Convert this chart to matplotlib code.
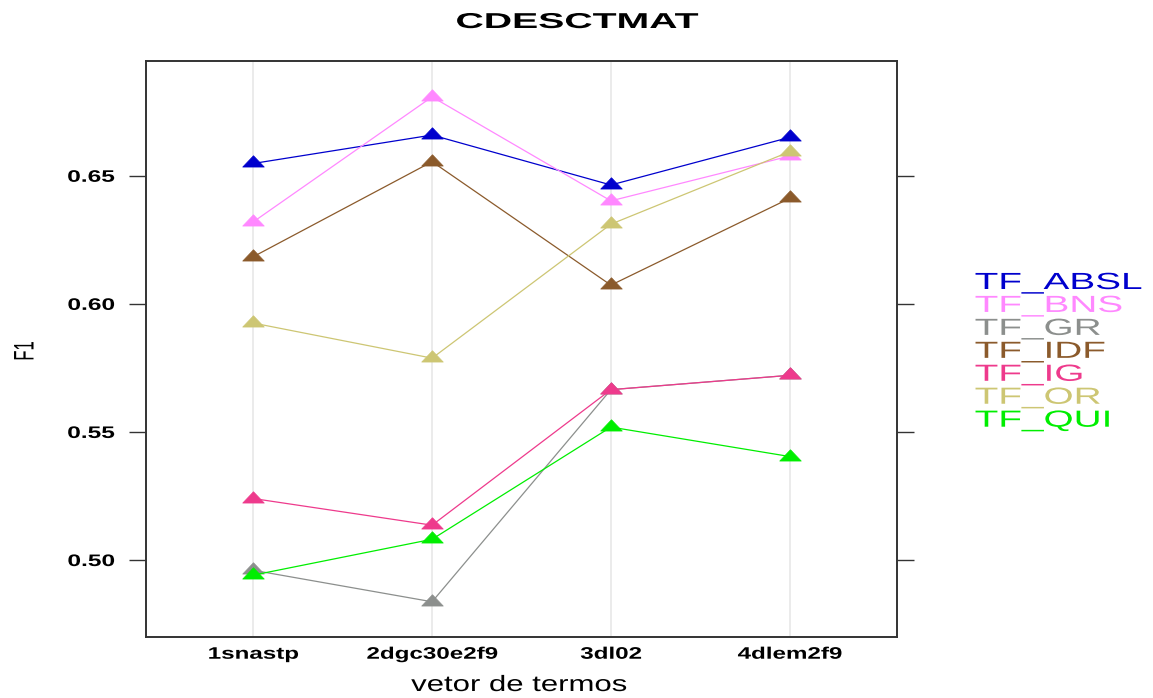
import matplotlib
matplotlib.use("Agg")
import matplotlib.pyplot as plt
from matplotlib.path import Path
from matplotlib.patheffects import AbstractPathEffect
from matplotlib.transforms import Affine2D

# ---------------- data ----------------
categories = ["1snastp", "2dgc30e2f9", "3dl02", "4dlem2f9"]
series_names = ["TF_ABSL", "TF_BNS", "TF_GR", "TF_IDF", "TF_IG", "TF_OR", "TF_QUI"]
tf_absl = [0.6548, 0.6659, 0.6464, 0.6650]
tf_bns = [0.6320, 0.6808, 0.6402, 0.6577]
tf_gr = [0.4960, 0.4837, 0.5665, 0.5721]
tf_idf = [0.6184, 0.6555, 0.6073, 0.6412]
tf_ig = [0.5240, 0.5136, 0.5665, 0.5721]
tf_or = [0.5925, 0.5788, 0.6311, 0.6594]
tf_qui = [0.4941, 0.5081, 0.5519, 0.5404]
series_values = [tf_absl, tf_bns, tf_gr, tf_idf, tf_ig, tf_or, tf_qui]
colors = ["#0000CD", "#FF88FF", "#8C8F8D", "#8B5A2B", "#EE3A8C", "#CDC673", "#00EE00"]
yticks = [0.50, 0.55, 0.60, 0.65]
ytick_labels = ["0.50", "0.55", "0.60", "0.65"]
title = "CDESCTMAT"
xlabel = "vetor de termos"
ylabel = "F1"


class Stretch(AbstractPathEffect):
    """Draw text glyphs stretched (the reference text is horizontally wide)."""
    def __init__(self, sx=1.0, sy=1.0, anchor="left"):
        super().__init__()
        self.sx, self.sy, self.anchor = sx, sy, anchor

    def draw_path(self, renderer, gc, tpath, affine, rgbFace=None):
        ext = tpath.get_extents()
        if self.anchor == "center":
            cx = (ext.x0 + ext.x1) / 2
        elif self.anchor == "right":
            cx = ext.x1
        else:
            cx = ext.x0
        cy = (ext.y0 + ext.y1) / 2
        t = Affine2D().translate(-cx, -cy).scale(self.sx, self.sy).translate(cx, cy) + affine
        renderer.draw_path(gc, tpath, t, rgbFace)


plt.rcParams["font.family"] = ["Liberation Sans", "DejaVu Sans"]

W, H = 1153, 698
fig = plt.figure(figsize=(W / 100, H / 100), dpi=100)
ax = fig.add_axes([146 / W, (H - 637) / H, (897 - 146) / W, (637 - 61) / H])

tri = Path([(-1, -0.33), (1, -0.33), (0, 0.72), (-1, -0.33)],
           [Path.MOVETO, Path.LINETO, Path.LINETO, Path.CLOSEPOLY])

xpos = list(range(1, len(categories) + 1))
for name, vals, c in zip(series_names, series_values, colors):
    ax.plot(xpos, vals, color=c, lw=0.9, marker=tri, markersize=15.5,
            markerfacecolor=c, markeredgecolor=c, markeredgewidth=0.5, zorder=3)

ax.set_xlim(0.4, 4.6)
ax.set_ylim(0.46995, 0.6948)
ax.set_xticks(xpos)
ax.set_xticklabels(categories, fontsize=12, fontweight="bold")
ax.set_yticks(yticks)
ax.set_yticklabels(ytick_labels, fontsize=12, fontweight="bold")
ax.grid(axis="x", color="#EBEBEB", lw=1.4, zorder=0)
ax.set_axisbelow(True)
ax.tick_params(axis="x", length=0, pad=7)
ax.tick_params(axis="y", direction="out", length=12.2, width=1.0, color="#333333",
               right=True, labelright=False, pad=10.5)
for s in ax.spines.values():
    s.set_color("#333333")
    s.set_linewidth(1.4)

for lab in ax.get_xticklabels():
    lab.set_path_effects([Stretch(sx=1.45, anchor="center")])
for lab in ax.get_yticklabels():
    lab.set_path_effects([Stretch(sx=1.47, anchor="right")])

fig.text(577 / W, 1 - 28 / H, title, ha="center", va="baseline", fontsize=15.5,
         fontweight="bold", path_effects=[Stretch(sx=1.82, anchor="center")])
fig.text(519 / W, 1 - 691 / H, xlabel, ha="center", va="baseline", fontsize=16,
         path_effects=[Stretch(sx=1.4, anchor="center")])
fig.text(25 / W, 1 - 351 / H, ylabel, ha="center", va="center", rotation=90, fontsize=12,
         path_effects=[Stretch(sx=1.0, sy=1.7, anchor="center")])

for i, (name, c) in enumerate(zip(series_names, colors)):
    fig.text(975 / W, 1 - (289 + i * 22.95) / H, name, ha="left", va="baseline",
             fontsize=16.8, color=c, path_effects=[Stretch(sx=1.66, anchor="left")])

fig.savefig("out.png", dpi=100)
